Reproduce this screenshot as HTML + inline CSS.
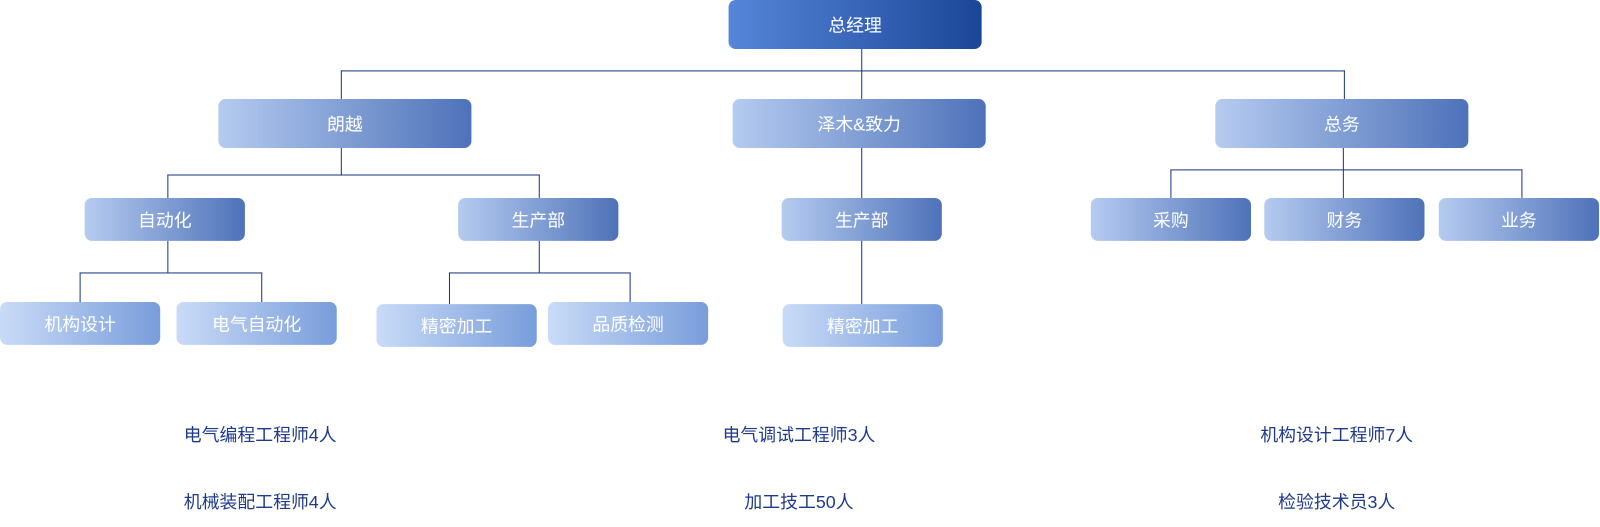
<!DOCTYPE html>
<html><head><meta charset="utf-8"><style>
body{margin:0;width:1600px;height:526px;background:#fff;position:relative;overflow:hidden;font-family:"Liberation Sans","Noto Sans CJK SC",sans-serif}
#w{position:absolute;left:0;top:0;width:1568px;height:516px;transform:scale(1.0204);transform-origin:0 0}
.b{position:absolute;border-radius:7px;color:#fff;font-size:17.5px;display:flex;align-items:center;justify-content:center}
.t{background:linear-gradient(90deg,#5686d9,#1b4698)}
.m{background:linear-gradient(90deg,#b5cbf0,#4e72b9)}
.s{background:linear-gradient(90deg,#c9dbf7,#799ddb)}
.l{position:absolute;background:#1a3585}
.x{position:absolute;color:#1e3a8a;font-size:17.5px;width:300px;text-align:center}
</style></head><body><div id="w">
<div class="l" style="left:844px;top:48px;width:1px;height:49px"></div>
<div class="l" style="left:334px;top:69px;width:984px;height:1px"></div>
<div class="l" style="left:334px;top:69px;width:1px;height:28px"></div>
<div class="l" style="left:1317px;top:69px;width:1px;height:28px"></div>
<div class="l" style="left:334px;top:145px;width:1px;height:26px"></div>
<div class="l" style="left:164px;top:171px;width:365px;height:1px"></div>
<div class="l" style="left:164px;top:171px;width:1px;height:23px"></div>
<div class="l" style="left:528px;top:171px;width:1px;height:23px"></div>
<div class="l" style="left:844px;top:145px;width:1px;height:153px"></div>
<div class="l" style="left:1316px;top:145px;width:1px;height:49px"></div>
<div class="l" style="left:1147px;top:166px;width:345px;height:1px"></div>
<div class="l" style="left:1147px;top:166px;width:1px;height:28px"></div>
<div class="l" style="left:1491px;top:166px;width:1px;height:28px"></div>
<div class="l" style="left:164px;top:236px;width:1px;height:31px"></div>
<div class="l" style="left:78px;top:267px;width:179px;height:1px"></div>
<div class="l" style="left:78px;top:267px;width:1px;height:29px"></div>
<div class="l" style="left:256px;top:267px;width:1px;height:29px"></div>
<div class="l" style="left:528px;top:236px;width:1px;height:31px"></div>
<div class="l" style="left:440px;top:267px;width:178px;height:1px"></div>
<div class="l" style="left:440px;top:267px;width:1px;height:31px"></div>
<div class="l" style="left:617px;top:267px;width:1px;height:29px"></div>

<div class="b t" style="left:714px;top:0;width:248px;height:48px">总经理</div>
<div class="b m" style="left:214px;top:97px;width:248px;height:48px">朗越</div>
<div class="b m" style="left:718px;top:97px;width:248px;height:48px">泽木&amp;致力</div>
<div class="b m" style="left:1191px;top:97px;width:248px;height:48px">总务</div>
<div class="b m" style="left:83px;top:194px;width:157px;height:42px">自动化</div>
<div class="b m" style="left:449px;top:194px;width:157px;height:42px">生产部</div>
<div class="b m" style="left:766px;top:194px;width:157px;height:42px">生产部</div>
<div class="b m" style="left:1069px;top:194px;width:157px;height:42px">采购</div>
<div class="b m" style="left:1239px;top:194px;width:157px;height:42px">财务</div>
<div class="b m" style="left:1410px;top:194px;width:157px;height:42px">业务</div>
<div class="b s" style="left:0;top:296px;width:157px;height:42px">机构设计</div>
<div class="b s" style="left:173px;top:296px;width:157px;height:42px">电气自动化</div>
<div class="b s" style="left:369px;top:298px;width:157px;height:42px">精密加工</div>
<div class="b s" style="left:537px;top:296px;width:157px;height:42px">品质检测</div>
<div class="b s" style="left:767px;top:298px;width:157px;height:42px">精密加工</div>

<div class="x" style="left:105px;top:413px">电气编程工程师4人</div>
<div class="x" style="left:105px;top:479px">机械装配工程师4人</div>
<div class="x" style="left:633px;top:413px">电气调试工程师3人</div>
<div class="x" style="left:633px;top:479px">加工技工50人</div>
<div class="x" style="left:1160px;top:413px">机构设计工程师7人</div>
<div class="x" style="left:1160px;top:479px">检验技术员3人</div>
</div></body></html>
